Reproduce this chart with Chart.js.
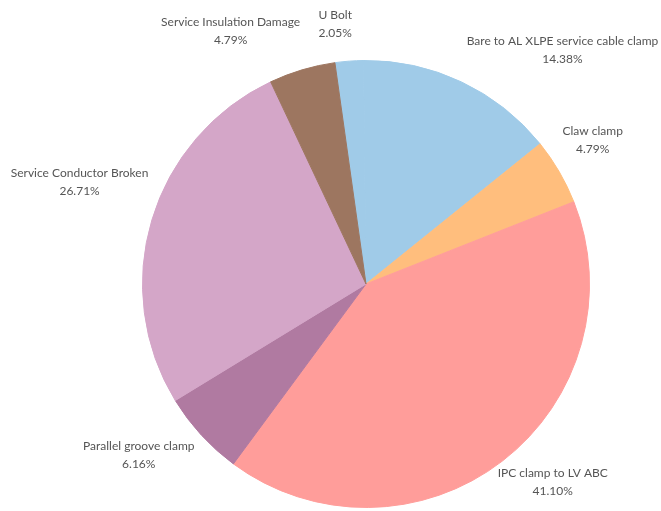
<!DOCTYPE html>
<html>
<head>
<meta charset="utf-8">
<script src="https://cdn.jsdelivr.net/npm/chart.js@4"></script>
<style>
  html, body { margin: 0; padding: 0; background: #fff; }
  #wrap { width: 661px; height: 511px; }
</style>
</head>
<body>
<div id="wrap"><canvas id="faultChart" width="661" height="511"></canvas></div>
<script>
// fault causes, clockwise from the top
const Causes = ["U Bolt", "Bare to AL XLPE service cable clamp", "Claw clamp", "IPC clamp to LV ABC",
                "Parallel groove clamp", "Service Conductor Broken", "Service Insulation Damage"];
const Shares = [2.05, 14.38, 4.79, 41.10, 6.16, 26.71, 4.79];
const Colors = ["#A0CBE8", "#A0CBE8", "#FFBE7D", "#FF9D9A", "#B07AA1", "#D4A6C8", "#9D7660"];

// label offsets in px from the default spot outside each slice
const labelNudge = [[-11, 3], [84, 4], [-1, -11], [26, -11], [-33, -7], [-34, -26], [-60, 0]];

const outsideLabels = {
    id: "outsideLabels",
    afterDatasetsDraw(chart) {
        const ctx = chart.ctx;
        const meta = chart.getDatasetMeta(0);
        ctx.save();
        ctx.font = "12px Lato";
        ctx.fillStyle = "#555";
        ctx.textAlign = "center";
        ctx.textBaseline = "middle";
        meta.data.forEach((arc, i) => {
            const p = arc.getProps(["x", "y", "startAngle", "endAngle", "outerRadius"], true);
            const mid = (p.startAngle + p.endAngle) / 2;
            const r = p.outerRadius + 40;
            const x = p.x + Math.cos(mid) * r + labelNudge[i][0];
            const y = p.y + Math.sin(mid) * r + labelNudge[i][1];
            ctx.fillText(Causes[i], x, y - 9);
            ctx.fillText(Shares[i].toFixed(2) + "%", x, y + 9);
        });
        ctx.restore();
    }
};

new Chart(document.getElementById("faultChart"), {
    type: "pie",
    data: {
        labels: Causes,
        datasets: [{
            data: Shares,
            backgroundColor: Colors,
            // border in the slice's own colour hides the seams between slices
            borderColor: Colors,
            borderWidth: 1
        }]
    },
    options: {
        responsive: false,
        animation: false,
        rotation: -8,
        layout: { padding: { top: 60, bottom: 3, left: 142, right: 71 } },
        plugins: {
            legend: { display: false },
            tooltip: { enabled: false }
        }
    },
    plugins: [outsideLabels]
});
</script>
</body>
</html>
